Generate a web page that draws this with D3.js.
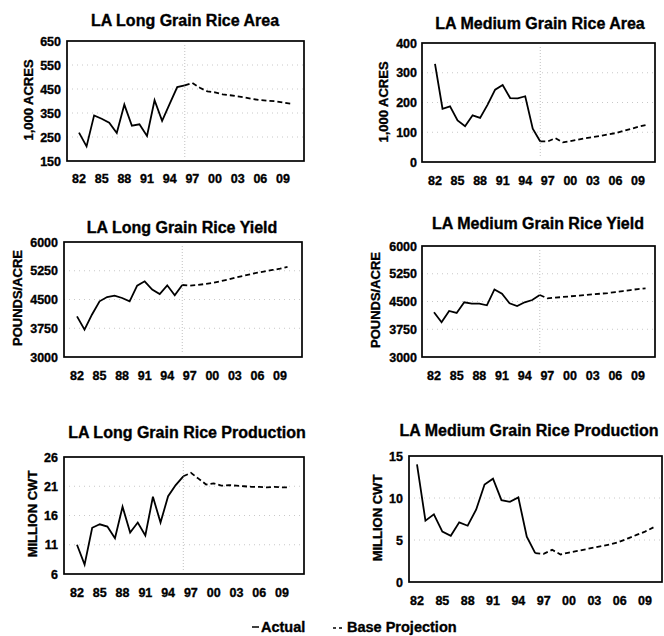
<!DOCTYPE html>
<html>
<head>
<meta charset="utf-8">
<script src="https://cdn.jsdelivr.net/npm/d3@7"></script>
<style>
  body { margin: 0; background: #fff; }
  svg text { font-family: "Liberation Sans", Arial, sans-serif; font-weight: bold; fill: #000; stroke: #000; stroke-width: 0.35px; }
</style>
</head>
<body>
<svg width="664" height="636"></svg>
<script>
"use strict";

// years
var actualYears = [1982, 1983, 1984, 1985, 1986, 1987, 1988, 1989, 1990, 1991, 1992, 1993, 1994, 1995, 1996];
var projYears = [1996, 1997, 1998, 1999, 2000, 2001, 2002, 2003, 2004, 2005, 2006, 2007, 2008, 2009, 2010];
var tickYears = [1982, 1985, 1988, 1991, 1994, 1997, 2000, 2003, 2006, 2009];
var tickLabels = ["82", "85", "88", "91", "94", "97", "00", "03", "06", "09"];

// LA long grain area (1,000 acres)
var lgAreaActual = [268, 211, 340, 326, 310, 267, 385, 297, 303, 254, 403, 317, 388, 458, 465];
var lgAreaProj = [465, 475, 455, 440, 436, 428, 424, 419, 414, 408, 404, 401, 399, 394, 389];
// LA medium grain area
var mgAreaActual = [330, 179, 187, 140, 120, 157, 148, 193, 243, 259, 215, 214, 221, 112, 69];
var mgAreaProj = [69, 69, 80, 66, 70, 75, 80, 84, 88, 93, 97, 104, 111, 118, 124];
// LA long grain yield (pounds/acre)
var lgYieldActual = [4061, 3713, 4110, 4452, 4565, 4600, 4539, 4452, 4861, 4974, 4757, 4643, 4870, 4609, 4878];
var lgYieldProj = [4878, 4861, 4878, 4904, 4930, 4974, 5017, 5070, 5113, 5157, 5200, 5235, 5270, 5304, 5348];
// LA medium grain yield
var mgYieldActual = [4209, 3940, 4245, 4191, 4478, 4442, 4442, 4397, 4827, 4710, 4451, 4379, 4478, 4540, 4675];
var mgYieldProj = [4675, 4585, 4603, 4621, 4639, 4657, 4675, 4693, 4710, 4728, 4755, 4782, 4809, 4836, 4854];
// LA long grain production (million cwt)
var lgProdActual = [11.0, 7.6, 13.9, 14.5, 14.1, 12.1, 17.5, 13.1, 14.8, 12.6, 19.2, 14.8, 19.3, 21.2, 22.7];
var lgProdProj = [22.7, 23.3, 22.3, 21.3, 21.5, 21.1, 21.2, 21.1, 21.0, 20.9, 20.9, 20.8, 20.9, 20.8, 20.8];
// LA medium grain production
var mgProdActual = [14.0, 7.3, 8.05, 6.0, 5.5, 7.1, 6.7, 8.6, 11.6, 12.3, 9.75, 9.55, 10.07, 5.4, 3.43];
var mgProdProj = [3.43, 3.35, 3.83, 3.28, 3.5, 3.7, 3.9, 4.1, 4.3, 4.5, 4.8, 5.2, 5.6, 6.0, 6.5];

var titles = ["LA Long Grain Rice Area", "LA Medium Grain Rice Area",
              "LA Long Grain Rice Yield", "LA Medium Grain Rice Yield",
              "LA Long Grain Rice Production", "LA Medium Grain Rice Production"];
var yTitles = ["1,000 ACRES", "1,000 ACRES", "POUNDS/ACRE", "POUNDS/ACRE", "MILLION CWT", "MILLION CWT"];
var yTicks = [
  [150, 250, 350, 450, 550, 650],
  [0, 100, 200, 300, 400],
  [3000, 3750, 4500, 5250, 6000],
  [3000, 3750, 4500, 5250, 6000],
  [6, 11, 16, 21, 26],
  [0, 5, 10, 15]
];
var actuals = [lgAreaActual, mgAreaActual, lgYieldActual, mgYieldActual, lgProdActual, mgProdActual];
var projections = [lgAreaProj, mgAreaProj, lgYieldProj, mgYieldProj, lgProdProj, mgProdProj];

// page layout: frame edges, where 82 and 09 sit, text anchors
var layout = [
  {l: 67, r: 304, t: 41, b: 161, x82: 79, x09: 283, tx: 185, ty: 20, yx: 28, yy: 100, lx: 61, xly: 178},
  {l: 422, r: 655, t: 43, b: 162, x82: 435, x09: 638, tx: 540, ty: 23, yx: 383, yy: 102, lx: 417, xly: 180},
  {l: 64, r: 302, t: 242, b: 357, x82: 77, x09: 280, tx: 182, ty: 227, yx: 17, yy: 298, lx: 58, xly: 375},
  {l: 422, r: 655, t: 246, b: 357, x82: 434, x09: 638, tx: 538, ty: 223, yx: 375, yy: 300, lx: 417, xly: 375},
  {l: 64, r: 304, t: 457, b: 574, x82: 77, x09: 282, tx: 187, ty: 432, yx: 32, yy: 514, lx: 58, xly: 592},
  {l: 409, r: 662, t: 456, b: 582, x82: 417, x09: 645, tx: 529, ty: 430, yx: 377, yy: 518, lx: 403, xly: 600}
];

var svg = d3.select("svg");

titles.forEach(function (title, i) {
  var p = layout[i];
  var ticks = yTicks[i];
  var x = d3.scaleLinear().domain([1982, 2009]).range([p.x82, p.x09]);
  var y = d3.scaleLinear().domain([ticks[0], ticks[ticks.length - 1]]).range([p.b, p.t]);
  var g = svg.append("g");

  // faint dotted grid
  g.selectAll("line.grid")
    .data(ticks.slice(1, -1))
    .enter()
    .append("line")
    .attr("x1", p.l).attr("x2", p.r)
    .attr("y1", function (d) { return y(d); })
    .attr("y2", function (d) { return y(d); })
    .attr("stroke", "#c8c8c8")
    .attr("stroke-width", 1)
    .attr("stroke-dasharray", "1,4");

  // divider between actual and projection
  var lastYear = actualYears[actualYears.length - 1];
  if (i < 5) {
    g.append("line")
      .attr("x1", x(lastYear)).attr("x2", x(lastYear))
      .attr("y1", p.t + 4).attr("y2", p.b - 4)
      .attr("stroke", "#c0c0c0")
      .attr("stroke-dasharray", "1,2");
  }

  // frame
  g.append("rect")
    .attr("x", p.l).attr("y", p.t)
    .attr("width", p.r - p.l).attr("height", p.b - p.t)
    .attr("fill", "none")
    .attr("stroke", "#000")
    .attr("stroke-width", 1.7);

  // y axis labels
  g.selectAll("text.ytick")
    .data(ticks)
    .enter()
    .append("text")
    .attr("x", p.lx)
    .attr("y", function (d) { return y(d) + 4.5; })
    .attr("text-anchor", "end")
    .style("font-size", "12.5px")
    .text(function (d) { return d; });

  // x axis labels
  g.selectAll("text.xtick")
    .data(tickYears)
    .enter()
    .append("text")
    .attr("x", function (d) { return x(d); })
    .attr("y", p.xly + 4.5)
    .attr("text-anchor", "middle")
    .style("font-size", "12.5px")
    .text(function (d, j) { return tickLabels[j]; });

  // title
  g.append("text")
    .attr("x", p.tx).attr("y", p.ty + 5.5)
    .attr("text-anchor", "middle")
    .style("font-size", "16px")
    .text(title);

  // y title
  g.append("text")
    .attr("transform", "translate(" + (p.yx + 4.5) + "," + p.yy + ") rotate(-90)")
    .attr("text-anchor", "middle")
    .style("font-size", "13px")
    .text(yTitles[i]);

  var line = d3.line()
    .x(function (d) { return x(d[0]); })
    .y(function (d) { return y(d[1]); });

  g.append("path")
    .datum(d3.zip(actualYears, actuals[i]))
    .attr("fill", "none")
    .attr("stroke", "#000")
    .attr("stroke-width", 1.8)
    .attr("d", line);

  g.append("path")
    .datum(d3.zip(projYears, projections[i]))
    .attr("fill", "none")
    .attr("stroke", "#000")
    .attr("stroke-width", 1.8)
    .attr("stroke-dasharray", "5,3")
    .attr("d", line);
});

// legend
svg.append("line")
  .attr("x1", 252).attr("x2", 259).attr("y1", 627).attr("y2", 627)
  .attr("stroke", "#000").attr("stroke-width", 1.5);
svg.append("text")
  .attr("x", 261).attr("y", 632)
  .style("font-size", "14.5px")
  .text("Actual");
svg.append("line")
  .attr("x1", 333).attr("x2", 345).attr("y1", 628).attr("y2", 628)
  .attr("stroke", "#000").attr("stroke-width", 1.5)
  .attr("stroke-dasharray", "3,3");
svg.append("text")
  .attr("x", 347).attr("y", 632)
  .style("font-size", "14.5px")
  .text("Base Projection");
</script>
</body>
</html>
